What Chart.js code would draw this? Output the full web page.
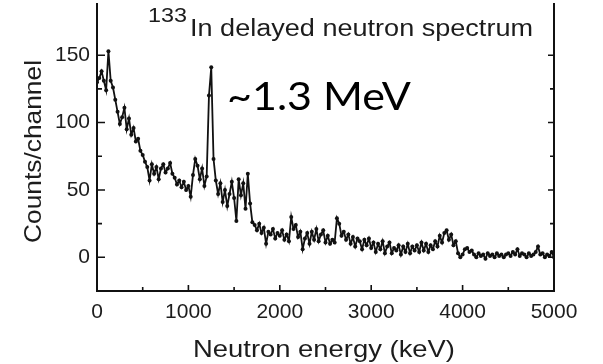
<!DOCTYPE html>
<html>
<head>
<meta charset="utf-8">
<title>133In delayed neutron spectrum</title>
<script src="https://cdn.jsdelivr.net/npm/chart.js@4.4.1/dist/chart.umd.min.js"></script>
<style>
    html, body { margin: 0; padding: 0; background: #fff; }
    #spectrum { display: block; }
</style>
</head>
<body>
<canvas id="spectrum" width="603" height="364"></canvas>
<script>
// --- DATA ---
// Channel width of the spectrum, keV (channel i sits at i * channelWidthKeV)
const channelWidthKeV = 25;

// Counts per channel, 0 .. 5000 keV, eight channels (200 keV) per row
const countsPerChannel = [
    130, 133, 138, 131, 124, 153, 131, 126,
    117, 108,  99, 104, 111,  95, 103,  91,
     96,  86,  88,  79,  76,  71,  67,  57,
     69,  62,  67,  58,  66,  69,  63,  66,
     70,  62,  59,  54,  57,  52,  56,  50,
     53,  45,  61,  73,  68,  58,  66,  53,
     60, 120, 141,  73,  57,  47,  55,  41,
     50,  38,  47,  56,  44,  27,  58,  46,
     55,  36,  62,  40,  26,  24,  20,  25,
     18,  22,  10,  19,  17,  21,  14,  18,
     16,  20,  13,  17,  12,  30,  21,  24,
     15,  19,   6,  14,  18,  10,  19,  13,
     21,  12,  17,  20,  11,  16,  10,  13,
     11,  29,  25,  16,  19,  13,  17,  10,
     15,   8,  14,  12,   6,  13,   9,  14,
      7,  11,   4,  10,   6,  12,   3,   8,
     11,   3,   7,   5,   9,   2,   8,   4,
     10,   3,   8,   5,   9,   4,  11,   5,
     10,   4,   9,   6,  12,   8,  16,  11,
     18,  20,  13,  17,   9,  12,   3,   0,
      2,   6,   7,   4,   5,   2,   0,   3,
      1,   2,  -1,   3,   1,   2,   0,   3,
      1,   2,   0,   2,   3,   1,   4,   2,
      6,   1,   3,   2,   0,   3,   1,   2,
      4,   8,   2,   3,   0,   2,   1,   4,
      0
];

// Axis ranges and tick spacing
const energyRange = [0, 5000];
const energyTickStep = 500;       // minor ticks, labels every 1000
const countsRange = [-25, 188];
const countsTickStep = 25;        // minor ticks, labels every 50

// Text drawn on the plot
const titleMass = '133';
const titleText = 'In delayed neutron spectrum';
const peakLabel = '~1.3 MeV';
const xTitle = 'Neutron energy (keV)';
const yTitle = 'Counts/channel';

document.addEventListener('DOMContentLoaded', () => {

    const ink = '#111';
    const textInk = '#1c1c1c';
    const sans = '"Liberation Sans", Arial, Helvetica, sans-serif';

    const points = countsPerChannel.map((c, i) => ({ x: i * channelWidthKeV, y: c }));

    // --- INWARD TICK MARKS ---
    const tickMarks = {
        id: 'tickMarks',
        afterDraw(chart) {
            const { ctx, chartArea } = chart;
            const { x, y } = chart.scales;
            ctx.save();
            ctx.strokeStyle = ink;
            ctx.lineWidth = 1.6;
            ctx.beginPath();
            x.ticks.forEach(t => {
                if (t.value % energyTickStep !== 0) return;
                const px = x.getPixelForValue(t.value);
                const len = t.value % 1000 === 0 ? 6 : 4;
                ctx.moveTo(px, chartArea.bottom);
                ctx.lineTo(px, chartArea.bottom - len);
            });
            y.ticks.forEach(t => {
                if (t.value % countsTickStep !== 0 || t.value <= countsRange[0]) return;
                const py = y.getPixelForValue(t.value);
                const major = t.value % 50 === 0;
                ctx.moveTo(chartArea.left, py);
                ctx.lineTo(chartArea.left + (major ? 8 : 5), py);
                ctx.moveTo(chartArea.right, py);
                ctx.lineTo(chartArea.right - (major ? 6 : 4), py);
            });
            ctx.stroke();
            ctx.restore();
        }
    };

    // draws text stretched horizontally so it spans `width` pixels
    function wideText(ctx, text, x, y, width) {
        const natural = ctx.measureText(text).width;
        ctx.save();
        ctx.translate(x, y);
        ctx.scale(width / natural, 1);
        ctx.fillText(text, 0, 0);
        ctx.restore();
    }

    // --- TITLES AND PEAK LABEL ---
    const labels = {
        id: 'labels',
        afterDraw(chart) {
            const ctx = chart.ctx;
            ctx.save();
            ctx.fillStyle = textInk;
            ctx.textBaseline = 'alphabetic';
            ctx.textAlign = 'left';

            ctx.font = '20px ' + sans;
            wideText(ctx, titleMass, 148, 22, 39);

            ctx.font = '23px ' + sans;
            wideText(ctx, titleText, 190, 36, 343);

            ctx.font = '24px ' + sans;
            wideText(ctx, xTitle, 193, 357, 262);

            ctx.save();
            ctx.translate(41, 243);
            ctx.rotate(-Math.PI / 2);
            wideText(ctx, yTitle, 0, 0, 183);
            ctx.restore();

            ctx.fillStyle = '#000';
            ctx.font = '39px Lato, "Noto Sans", sans-serif';
            wideText(ctx, peakLabel, 227, 110, 184);
            ctx.restore();
        }
    };

    const tickFont = { family: sans, size: 21 };
    const noPadding = s => { s.paddingTop = 0; s.paddingBottom = 0; };

    new Chart(document.getElementById('spectrum').getContext('2d'), {
        type: 'line',
        data: {
            datasets: [{
                data: points,
                borderColor: ink,
                borderWidth: 1.8,
                pointRadius: 2,
                pointBackgroundColor: ink,
                pointBorderWidth: 0,
                tension: 0
            }]
        },
        options: {
            responsive: false,
            animation: false,
            layout: { padding: { top: 0, right: 49, bottom: 0, left: 0 } },
            plugins: { legend: { display: false }, tooltip: { enabled: false } },
            scales: {
                x: {
                    type: 'linear',
                    min: energyRange[0],
                    max: energyRange[1],
                    ticks: {
                        stepSize: energyTickStep,
                        autoSkip: false,
                        maxRotation: 0,
                        padding: 9,
                        color: textInk,
                        font: tickFont,
                        callback: v => (v % 1000 === 0 ? String(v) : '')
                    },
                    grid: { drawOnChartArea: false, drawTicks: false },
                    border: { color: ink, width: 2 },
                    afterFit: s => { s.height = 73; }
                },
                y: {
                    min: countsRange[0],
                    max: countsRange[1],
                    ticks: {
                        stepSize: countsTickStep,
                        padding: 7,
                        color: textInk,
                        font: tickFont,
                        callback: v => (v % 50 === 0 ? String(v) : '')
                    },
                    grid: { drawOnChartArea: false, drawTicks: false },
                    border: { color: ink, width: 2 },
                    afterFit: s => { s.width = 97; noPadding(s); }
                },
                y2: {
                    position: 'right',
                    min: countsRange[0],
                    max: countsRange[1],
                    ticks: { display: false, stepSize: countsTickStep },
                    grid: { drawOnChartArea: false, drawTicks: false },
                    border: { color: ink, width: 2 },
                    afterFit: s => { s.width = 0; noPadding(s); }
                }
            }
        },
        plugins: [tickMarks, labels]
    });
});
</script>
</body>
</html>
